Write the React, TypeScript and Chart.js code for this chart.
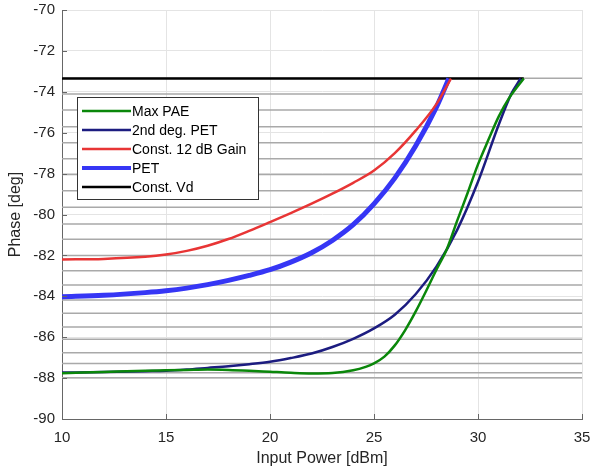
import { useEffect, useRef } from "react";
import { Chart, registerables } from "chart.js";

Chart.register(...registerables);

// Phase vs. input power for the different supply strategies
const maxPaePower = [10, 12, 14, 15, 16, 17, 18, 19, 20, 21, 22, 23, 24, 24.6, 25, 25.5, 26, 26.5, 27, 27.5, 28, 28.5, 29, 29.5, 30, 30.5, 31, 31.5, 32.2];
const maxPaePhase = [-87.76, -87.7, -87.64, -87.62, -87.6, -87.58, -87.6, -87.64, -87.69, -87.74, -87.77, -87.75, -87.62, -87.45, -87.28, -86.95, -86.4, -85.65, -84.75, -83.75, -82.7, -81.7, -80.3, -78.95, -77.55, -76.35, -75.2, -74.3, -73.35];

const pet2Power = [10, 12, 14, 15, 16, 17, 18, 19, 20, 21, 22, 23, 24, 25, 26, 27, 28, 29, 30, 31, 31.6, 32.05];
const pet2Phase = [-87.73, -87.7, -87.66, -87.64, -87.58, -87.5, -87.42, -87.32, -87.2, -87.02, -86.8, -86.48, -86.08, -85.57, -84.9, -83.9, -82.55, -80.75, -78.4, -75.6, -74.1, -73.35];

const gain12Power = [10, 12, 14, 15, 16, 17, 18, 19, 20, 21, 22, 23, 24, 25, 26, 27, 28, 28.7];
const gain12Phase = [-82.2, -82.17, -82.07, -81.96, -81.78, -81.53, -81.2, -80.8, -80.37, -79.93, -79.47, -78.98, -78.45, -77.85, -77.0, -75.9, -74.6, -73.35];

const petPower = [10, 12, 14, 15, 16, 17, 18, 19, 20, 21, 22, 23, 24, 25, 26, 27, 28, 28.6];
const petPhase = [-84.02, -83.95, -83.82, -83.73, -83.6, -83.43, -83.22, -82.98, -82.7, -82.33, -81.87, -81.27, -80.5, -79.48, -78.22, -76.65, -74.75, -73.35];

const constVdPower = [10, 32.2];
const constVdPhase = [-73.35, -73.35];

// Phase levels of the individual fixed-Vd sweeps (drawn as gray reference lines)
const vdSweepPhases = [-73.34, -74.11, -74.89, -75.71, -76.49, -77.27, -78.05, -78.84, -79.65, -80.46, -81.21, -82.01, -82.75, -83.45, -84.18, -84.83, -85.5, -86.1, -86.76, -87.28, -87.74, -87.98];
const sweepPowerRange = [10, 35];

const xTickValues = [10, 15, 20, 25, 30, 35];
const yTickValues = [-90, -88, -86, -84, -82, -80, -78, -76, -74, -72, -70];

const FONT = "'Liberation Sans', Arial, Helvetica, sans-serif";
const TEXT = "#262626";

const toPoints = (xs: number[], ys: number[]) => xs.map((x, i) => ({ x, y: ys[i] }));

const series = [
  { label: "Max PAE", xs: maxPaePower, ys: maxPaePhase, color: "#0a870a", width: 2.5 },
  { label: "2nd deg. PET", xs: pet2Power, ys: pet2Phase, color: "#1c1c80", width: 2.5 },
  { label: "Const. 12 dB Gain", xs: gain12Power, ys: gain12Phase, color: "#e83535", width: 2.5 },
  { label: "PET", xs: petPower, ys: petPhase, color: "#3636f5", width: 5 },
  { label: "Const. Vd", xs: constVdPower, ys: constVdPhase, color: "#000000", width: 2.5 },
];

const axisDecor = {
  id: "axisDecor",
  afterDatasetsDraw(chart: any) {
    const { ctx, chartArea: a, scales } = chart;
    ctx.save();
    // inward tick marks
    ctx.strokeStyle = "#666666";
    ctx.lineWidth = 1;
    ctx.beginPath();
    for (const v of xTickValues) {
      const px = Math.round(scales.x.getPixelForValue(v)) + 0.5;
      ctx.moveTo(px, a.bottom);
      ctx.lineTo(px, a.bottom - 5);
    }
    for (const v of yTickValues) {
      const py = Math.round(scales.y.getPixelForValue(v)) + 0.5;
      ctx.moveTo(a.left, py);
      ctx.lineTo(a.left + 5, py);
    }
    ctx.stroke();

    // legend box inside the plot area
    const left = a.left + 15;
    const top = a.top + 87;
    const w = 181;
    const rowH = 19;
    const h = rowH * series.length + 7;
    ctx.fillStyle = "#ffffff";
    ctx.fillRect(left, top, w, h);
    ctx.strokeStyle = "#333333";
    ctx.lineWidth = 1;
    ctx.strokeRect(left + 0.5, top + 0.5, w, h);
    ctx.font = `14px ${FONT}`;
    ctx.textBaseline = "middle";
    ctx.textAlign = "left";
    series.forEach((s, i) => {
      const y = top + 14 + i * rowH;
      ctx.strokeStyle = s.color;
      ctx.lineWidth = s.width === 5 ? 4 : 2.5;
      ctx.beginPath();
      ctx.moveTo(left + 5, y);
      ctx.lineTo(left + 54, y);
      ctx.stroke();
      ctx.fillStyle = "#000000";
      ctx.fillText(s.label, left + 55, y + 1);
    });
    ctx.restore();
  },
};

export default function App() {
  const canvasRef = useRef<HTMLCanvasElement | null>(null);

  useEffect(() => {
    document.body.style.margin = "0";
    const canvas = canvasRef.current;
    if (!canvas) return;

    const sweepSets = vdSweepPhases.map((p) => ({
      label: "",
      data: sweepPowerRange.map((x) => ({ x, y: p })),
      borderColor: "#a9a9a9",
      borderWidth: 1.5,
      pointRadius: 0,
      order: 10,
    }));

    const mainSets = series.map((s, i) => ({
      label: s.label,
      data: toPoints(s.xs, s.ys),
      borderColor: s.color,
      backgroundColor: s.color,
      borderWidth: s.width,
      pointRadius: 0,
      cubicInterpolationMode: "monotone" as const,
      order: i === 4 ? 2 : 1,
    }));

    const chart = new Chart(canvas, {
      type: "line",
      data: { datasets: [...mainSets, ...sweepSets] as any },
      options: {
        animation: false,
        responsive: false,
        layout: { padding: { top: 10, right: 9, left: 0, bottom: 0 } },
        plugins: { legend: { display: false }, tooltip: { enabled: false } },
        scales: {
          x: {
            type: "linear",
            min: 10,
            max: 35,
            afterFit: (scale: any) => {
              scale.height = 56;
              scale.paddingLeft = 0;
              scale.paddingRight = 0;
            },
            ticks: {
              stepSize: 5,
              padding: 10,
              color: TEXT,
              font: { family: FONT, size: 15 },
              maxRotation: 0,
            },
            grid: { color: "#e4e4e4", lineWidth: 1, drawTicks: false },
            border: { color: "#666666", width: 1 },
            title: {
              display: true,
              text: "Input Power [dBm]",
              color: TEXT,
              font: { family: FONT, size: 16 },
              padding: { top: 0, bottom: 7 },
            },
          },
          y: {
            type: "linear",
            min: -90,
            max: -70,
            afterFit: (scale: any) => {
              scale.width = 62;
              scale.paddingTop = 0;
              scale.paddingBottom = 0;
            },
            ticks: {
              stepSize: 2,
              padding: 7,
              color: TEXT,
              font: { family: FONT, size: 15 },
            },
            grid: { color: "#e4e4e4", lineWidth: 1, drawTicks: false },
            border: { color: "#666666", width: 1 },
            title: {
              display: true,
              text: "Phase [deg]",
              color: TEXT,
              font: { family: FONT, size: 16 },
              padding: { top: 6, bottom: 0 },
            },
          },
        },
      },
      plugins: [axisDecor],
    });

    return () => chart.destroy();
  }, []);

  return (
    <div style={{ width: 591, height: 475 }}>
      <canvas ref={canvasRef} width={591} height={475} />
    </div>
  );
}
